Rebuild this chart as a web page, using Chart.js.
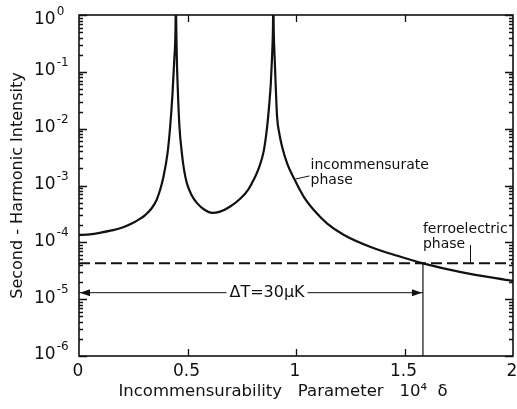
<!DOCTYPE html>
<html>
<head>
<meta charset="utf-8">
<script src="https://cdn.jsdelivr.net/npm/chart.js@4.4.1/dist/chart.umd.min.js"></script>
<style>
  html, body { margin: 0; padding: 0; background: #fff; }
  #wrap { width: 517px; height: 409px; }
</style>
</head>
<body>
<div id="wrap"><canvas id="shgChart" width="517" height="409"></canvas></div>
<script>
// values (delta in units of 1e-4, intensity relative)
const deltaValues = [0, 0.05, 0.1, 0.15, 0.2, 0.243, 0.275, 0.305, 0.335, 0.358, 0.375, 0.389, 0.408, 0.42, 0.431, 0.439, 0.4445, 0.4465, 0.4485, 0.451, 0.456, 0.463, 0.474, 0.484, 0.497, 0.518, 0.544, 0.58, 0.613, 0.65, 0.697, 0.744, 0.78, 0.805, 0.83, 0.851, 0.866, 0.876, 0.884, 0.889, 0.8935, 0.8955, 0.8975, 0.902, 0.907, 0.913, 0.924, 0.936, 0.959, 0.99, 1.036, 1.082, 1.144, 1.221, 1.344, 1.467, 1.585, 1.76, 2.0];
const intensityValues = [1.35e-4, 1.38e-4, 1.48e-4, 1.62e-4, 1.82e-4, 2.14e-4, 2.51e-4, 3.02e-4, 3.98e-4, 5.62e-4, 8.7e-4, 1.41e-3, 3.72e-3, 1.07e-2, 4.17e-2, 0.162, 0.5, 1.78, 0.5, 0.162, 4.17e-2, 1.07e-2, 3.72e-3, 1.9e-3, 1.1e-3, 6.9e-4, 4.9e-4, 3.7e-4, 3.3e-4, 3.47e-4, 4.27e-4, 5.89e-4, 8.5e-4, 1.26e-3, 2.09e-3, 3.98e-3, 1.0e-2, 2.5e-2, 6.3e-2, 0.162, 0.5, 1.78, 0.5, 0.162, 5.0e-2, 1.58e-2, 7.9e-3, 4.8e-3, 2.45e-3, 1.35e-3, 6.3e-4, 3.7e-4, 2.14e-4, 1.35e-4, 8.3e-5, 5.8e-5, 4.27e-5, 3.0e-5, 2.09e-5];

const ferroLevel = 4.27e-5;      // dashed line
const transitionDelta = 1.585;   // where curve meets dashed line
const arrowLevel = 1.3e-5;       // Delta T arrow
const arrowGap = [0.68, 1.053];  // break in arrow for its label
const yDecades = [0, -1, -2, -3, -4, -5, -6];
const xTickValues = [0, 0.5, 1, 1.5, 2];
const xTickLabels = ['0', '0.5', '1', '1.5', '2'];

const ink = '#111';
const curve = deltaValues.map((d, i) => ({ x: d, y: intensityValues[i] }));

// frame, inward ticks, tick labels, arrowheads and annotations
const decorations = {
  id: 'decorations',
  afterDatasetsDraw(chart) {
    const { ctx, chartArea: a, scales: { x, y } } = chart;
    ctx.save();
    ctx.strokeStyle = ink;
    ctx.fillStyle = ink;

    ctx.lineWidth = 1.6;
    ctx.strokeRect(a.left, a.top, a.right - a.left, a.bottom - a.top);

    ctx.lineWidth = 1.3;
    ctx.beginPath();
    y.ticks.forEach(t => {
      const py = Math.round(y.getPixelForValue(t.value)) + 0.5;
      const len = t.major ? 8 : 4;
      ctx.moveTo(a.left, py); ctx.lineTo(a.left + len, py);
      ctx.moveTo(a.right, py); ctx.lineTo(a.right - len, py);
    });
    xTickValues.slice(1, -1).forEach(v => {
      const px = Math.round(x.getPixelForValue(v)) + 0.5;
      ctx.moveTo(px, a.bottom); ctx.lineTo(px, a.bottom - 7);
      ctx.moveTo(px, a.top); ctx.lineTo(px, a.top + 7);
    });
    ctx.stroke();

    // y tick labels: 10 with superscript exponent
    ctx.textBaseline = 'middle';
    ctx.textAlign = 'left';
    yDecades.forEach(e => {
      let py = y.getPixelForValue(Math.pow(10, e)) - 1;
      if (py < 20) py = 20;
      ctx.font = '17px "DejaVu Sans"';
      ctx.fillText('10', 34, py);
      const w = ctx.measureText('10').width;
      ctx.font = '12px "DejaVu Sans"';
      ctx.fillText(e === 0 ? '0' : '-' + Math.abs(e), 34 + w + 1, py - 8);
    });

    // x tick labels and axis title
    ctx.textAlign = 'center';
    ctx.font = '17px "DejaVu Sans"';
    xTickValues.forEach((v, i) => {
      ctx.fillText(xTickLabels[i], x.getPixelForValue(v) - 1, a.bottom + 16);
    });
    ctx.font = '16.5px "DejaVu Sans"';
    ctx.fillText('Incommensurability   Parameter   10\u2074  \u03b4', (a.left + a.right) / 2 - 13, a.bottom + 36);

    // arrowheads of Delta T
    const ay = y.getPixelForValue(arrowLevel);
    const ax0 = x.getPixelForValue(0) + 1;
    const ax1 = x.getPixelForValue(transitionDelta) - 1;
    ctx.beginPath();
    ctx.moveTo(ax0, ay); ctx.lineTo(ax0 + 10, ay - 3.5); ctx.lineTo(ax0 + 10, ay + 3.5); ctx.closePath();
    ctx.moveTo(ax1, ay); ctx.lineTo(ax1 - 10, ay - 3.5); ctx.lineTo(ax1 - 10, ay + 3.5); ctx.closePath();
    ctx.fill();

    ctx.font = '16px "DejaVu Sans"';
    ctx.fillText('\u0394T=30\u03bcK', x.getPixelForValue((arrowGap[0] + arrowGap[1]) / 2), ay);

    // incommensurate phase label
    ctx.font = '14px "DejaVu Sans"';
    ctx.textAlign = 'left';
    const ix = x.getPixelForValue(1.067);
    const iy = y.getPixelForValue(2.3e-3);
    ctx.fillText('incommensurate', ix, iy);
    ctx.fillText('phase', ix, iy + 15);
    ctx.lineWidth = 1;
    ctx.beginPath();
    ctx.moveTo(x.getPixelForValue(0.998), y.getPixelForValue(1.3e-3));
    ctx.lineTo(ix - 1, iy + 11);
    ctx.stroke();

    // ferroelectric phase label
    const fx = x.getPixelForValue(transitionDelta);
    const fy = y.getPixelForValue(1.72e-4);
    ctx.fillText('ferroelectric', fx, fy);
    ctx.fillText('phase', fx, fy + 15);
    const lx = Math.round(x.getPixelForValue(1.803)) + 0.5;
    ctx.beginPath();
    ctx.moveTo(lx, fy + 16);
    ctx.lineTo(lx, y.getPixelForValue(ferroLevel));
    ctx.stroke();

    ctx.restore();
  }
};

new Chart(document.getElementById('shgChart'), {
  type: 'scatter',
  data: {
    datasets: [
      { data: curve, showLine: true, borderColor: ink, borderWidth: 2.2, pointRadius: 0, cubicInterpolationMode: 'monotone' },
      { data: [{ x: 0, y: ferroLevel }, { x: 2, y: ferroLevel }], showLine: true, borderColor: ink, borderWidth: 2, borderDash: [11, 5], pointRadius: 0 },
      { data: [{ x: transitionDelta, y: ferroLevel }, { x: transitionDelta, y: 1e-6 }], showLine: true, borderColor: ink, borderWidth: 1.2, pointRadius: 0 },
      { data: [{ x: 0, y: arrowLevel }, { x: arrowGap[0], y: arrowLevel }], showLine: true, borderColor: ink, borderWidth: 1, pointRadius: 0 },
      { data: [{ x: arrowGap[1], y: arrowLevel }, { x: transitionDelta, y: arrowLevel }], showLine: true, borderColor: ink, borderWidth: 1, pointRadius: 0 }
    ]
  },
  options: {
    responsive: false,
    animation: false,
    layout: { padding: { top: 15, right: 4, left: 0, bottom: 0 } },
    plugins: { legend: { display: false }, tooltip: { enabled: false } },
    scales: {
      x: {
        type: 'linear', min: 0, max: 2,
        grid: { display: false, drawTicks: false },
        border: { display: false },
        afterBuildTicks: s => { s.ticks = xTickValues.map(v => ({ value: v })); },
        afterFit: s => { s.height = 53; },
        ticks: { display: false }
      },
      y: {
        type: 'logarithmic', min: 1e-6, max: 1,
        grid: { display: false, drawTicks: false },
        border: { display: false },
        afterBuildTicks: s => {
          const ticks = [];
          yDecades.slice().reverse().forEach(e => {
            for (let m = 1; m <= 9; m++) {
              const v = m * Math.pow(10, e);
              if (v <= 1) ticks.push({ value: v, major: m === 1 });
            }
          });
          s.ticks = ticks;
        },
        afterFit: s => { s.width = 79; },
        ticks: { display: false },
        title: {
          display: true, color: ink,
          text: 'Second - Harmonic Intensity',
          font: { family: 'DejaVu Sans', size: 16 },
          padding: { top: 8, bottom: 0 }
        }
      }
    }
  },
  plugins: [decorations]
});
</script>
</body>
</html>
